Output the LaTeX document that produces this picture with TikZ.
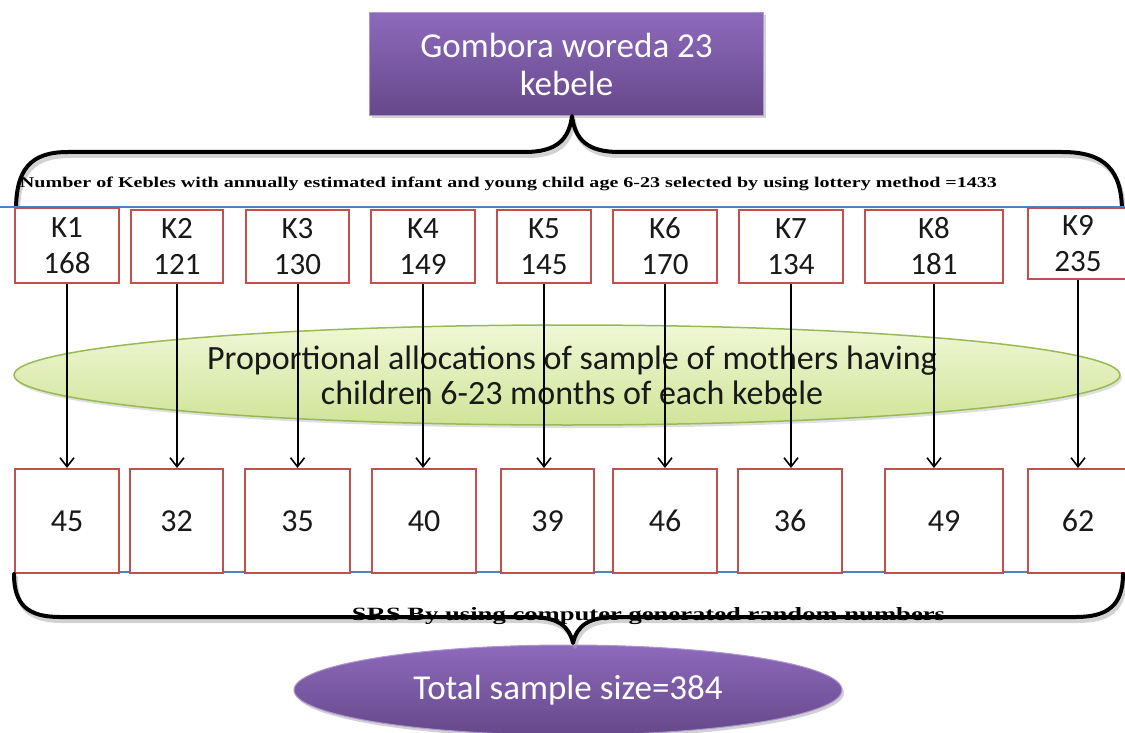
\documentclass[tikz,border=0pt]{standalone}
\usepackage{fontspec}
\setmainfont{Carlito}
\newfontfamily\serifb{Liberation Serif}
\usetikzlibrary{arrows.meta,shadows,shapes.geometric}
\definecolor{boxred}{RGB}{192,80,77}
\definecolor{lineblue}{RGB}{79,129,189}
\definecolor{purtop}{RGB}{141,106,188}
\definecolor{purbot}{RGB}{102,72,138}
\definecolor{grtop}{RGB}{240,247,214}
\definecolor{grbot}{RGB}{208,228,152}
\definecolor{grborder}{RGB}{152,185,84}
\tikzset{
  kbox/.style={draw=boxred, line width=2pt, fill=white, inner sep=0pt, align=center,
    anchor=north west, font=\fontsize{31}{36}\selectfont, text=black!90},
  nbox/.style={kbox, minimum height=104pt, font=\fontsize{32}{36}\selectfont},
  purbox/.style={top color=purtop, bottom color=purbot, draw=purtop!70!white, line width=1pt,
    text=white, align=center, drop shadow={opacity=0.35, shadow xshift=2pt, shadow yshift=-3pt}},
  arr/.style={line width=2pt, -{Straight Barb[length=9pt,width=14pt,line width=1.6pt]}},
  bracepath/.style={line width=4pt, line cap=round, line join=round},
  bshadow/.style={line width=5pt, draw=black!35, opacity=0.5},
  blue line/.style={draw=lineblue, line width=2pt}
}
\begin{document}
\begin{tikzpicture}[x=1pt,y=-1pt]
\useasboundingbox[fill=white] (0,0) rectangle (1125,733);

% top purple box
\node[purbox, rectangle, anchor=north west, minimum width=394pt, minimum height=103pt,
  font=\fontsize{35}{38}\selectfont] (top) at (369,12) {Gombora woreda 23\\kebele};
\coordinate (t1) at (572,116);

% top brace
\begin{scope}[shift={(2,4)}]
\draw[bshadow, bracepath] (16,210) .. controls (16,170) and (30,152) .. (68,152) -- (525,152)
  .. controls (556,152) and (569,140) .. (572,116)
  .. controls (575,140) and (588,152) .. (619,152) -- (1062,152)
  .. controls (1105,152) and (1122,170) .. (1122,212);
\end{scope}
\draw[bracepath] (16,210) .. controls (16,170) and (30,152) .. (68,152) -- (525,152)
  .. controls (556,152) and (569,140) .. (t1)
  .. controls (575,140) and (588,152) .. (619,152) -- (1062,152)
  .. controls (1105,152) and (1122,170) .. (1122,212);

% top caption
\node[inner sep=0pt, anchor=center] (cap1) at (508.5,184)
  {\resizebox{977pt}{10.5pt}{\fontsize{15}{15}\serifb\bfseries Number of Kebles with annually estimated infant and young child age 6-23 selected by using lottery method =1433}};

% blue lines
\draw[blue line] (0,207) -- (1125,207);
\draw[blue line] (14,572) -- (1125,572);

% green ellipse
\node[ellipse, top color=grtop, bottom color=grbot, draw=grborder, line width=1.5pt,
  minimum width=1106pt, minimum height=100pt, inner sep=0pt,
  drop shadow={opacity=0.25, shadow xshift=2pt, shadow yshift=-3pt}] (alloc) at (567,375) {};
\node[align=center, font=\fontsize{34}{35}\selectfont, text=black!90] (alloctxt) at (572,375)
  {Proportional allocations of sample of mothers having\\children 6-23 months of each kebele};

% K boxes
\node[kbox, minimum width=104pt, minimum height=75pt] (k1) at (14,207) {K1\\168};
\node[kbox, minimum width=92pt, minimum height=73pt] (k2) at (130,209) {K2\\121};
\node[kbox, minimum width=103pt, minimum height=73pt] (k3) at (245,209) {K3\\130};
\node[kbox, minimum width=104pt, minimum height=73pt] (k4) at (370,209) {K4\\149};
\node[kbox, minimum width=94pt, minimum height=73pt] (k5) at (496,209) {K5\\145};
\node[kbox, minimum width=104pt, minimum height=73pt] (k6) at (612,209) {K6\\170};
\node[kbox, minimum width=104pt, minimum height=73pt] (k7) at (738,209) {K7\\134};
\node[kbox, minimum width=138pt, minimum height=73pt] (k8) at (864,209) {K8\\181};
\node[kbox, minimum width=100pt, minimum height=71pt] (k9) at (1027,207) {K9\\235};

% number boxes
\node[nbox, minimum width=104pt] (b1) at (14,468) {45};
\node[nbox, minimum width=93pt] (b2) at (129,468) {32};
\node[nbox, minimum width=105pt] (b3) at (244,468) {35};
\node[nbox, minimum width=104pt] (b4) at (371,468) {40};
\node[nbox, minimum width=93pt] (b5) at (500,468) {39};
\node[nbox, minimum width=104pt] (b6) at (612,468) {46};
\node[nbox, minimum width=104pt] (b7) at (737,468) {36};
\node[nbox, minimum width=118pt] (b8) at (884,468) {49};
\node[nbox, minimum width=100pt] (b9) at (1027,468) {62};

% arrows
\foreach \i in {1,...,9}{
  \draw[arr] (k\i.south) -- (k\i.south |- b\i.north);
}

% bottom purple ellipse
\node[purbox, ellipse, minimum width=548pt, minimum height=90pt, inner sep=0pt,
  font=\fontsize{35}{36}\selectfont] (tot) at (568,690) {Total sample size=384};
\coordinate (t2) at (573,643);

% bottom brace
\begin{scope}[shift={(2,4)}]
\draw[bshadow, bracepath] (14,574) .. controls (14,605) and (28,617) .. (60,617) -- (530,617)
  .. controls (558,617) and (569,626) .. (573,643)
  .. controls (577,626) and (588,617) .. (616,617) -- (1076,617)
  .. controls (1108,617) and (1123,605) .. (1123,574);
\end{scope}
\draw[bracepath] (14,574) .. controls (14,605) and (28,617) .. (60,617) -- (530,617)
  .. controls (558,617) and (569,626) .. (t2)
  .. controls (577,626) and (588,617) .. (616,617) -- (1076,617)
  .. controls (1108,617) and (1123,605) .. (1123,574);

\node[inner sep=0pt] (cap2) at (648.5,616)
  {\resizebox{593pt}{13pt}{\fontsize{18}{18}\serifb\bfseries SRS By using computer generated random numbers}};
\end{tikzpicture}
\end{document}
